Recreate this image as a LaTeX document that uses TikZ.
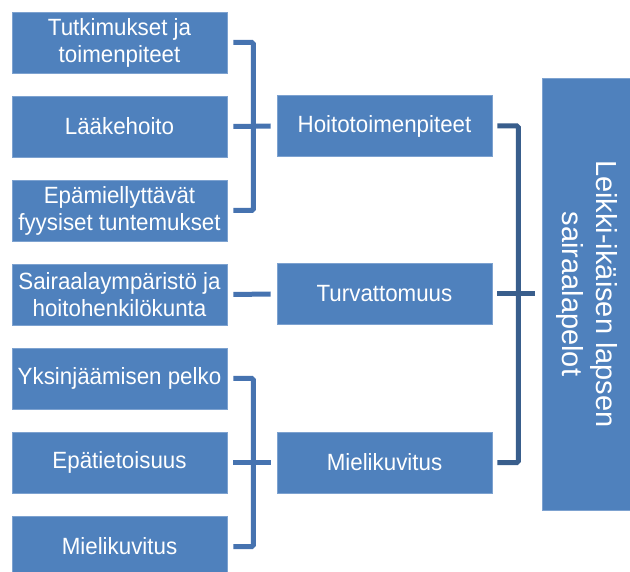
\documentclass[tikz,border=0pt]{standalone}
\usepackage{fontspec}
\setmainfont{Liberation Sans}
\newfontfamily\narrowfont{Liberation Sans}[FakeStretch=0.95]
\usepackage{tikz}
\definecolor{boxblue}{RGB}{79,129,189}
\definecolor{boxedge}{RGB}{125,162,208}
\definecolor{leftline}{RGB}{70,115,176}
\definecolor{rightline}{RGB}{57,94,140}
\begin{document}
\begin{tikzpicture}[x=1pt,y=-1pt,
    box/.style={rectangle,fill=boxblue,draw=boxedge,line width=0.6pt,text=white,
        minimum width=215pt,minimum height=61pt,inner sep=0pt,align=center,
        font=\narrowfont\fontsize{23.5}{27}\selectfont},
    lbr/.style={leftline,line width=5pt,rounded corners=1.5pt},
    rbr/.style={rightline,line width=5pt,rounded corners=1.5pt}]
        \useasboundingbox (0,0) rectangle (630,572);
        \clip (0,0) rectangle (630,572); % bottom box is cut by the page
        % left column
        \node[box] (tut) at (119.5,42.5) {Tutkimukset ja\\toimenpiteet};
        \node[box] (laa) at (119.5,126.5) {Lääkehoito};
        \node[box] (epa) at (119.5,210.5) {Epämiellyttävät\\fyysiset tuntemukset};
        \node[box] (sai) at (119.5,294.5) {Sairaalaympäristö ja\\hoitohenkilökunta};
        \node[box] (yks) at (119.5,378.5) {Yksinjäämisen pelko};
        \node[box] (epat) at (119.5,462.5) {Epätietoisuus};
        \node[box] (mku) at (119.5,546.5) {Mielikuvitus};
        % middle column
        \node[box] (hoi) at (384.5,126) {Hoitotoimenpiteet};
        \node[box] (tur) at (384.5,294) {Turvattomuus};
        \node[box] (mie) at (384.5,462.5) {Mielikuvitus};
        % right column, text runs downwards
        \node[box,rotate=-90,minimum width=432pt,minimum height=90pt,
            font=\fontsize{29}{34}\selectfont] (pel) at (587,294)
            {Leikki-ikäisen lapsen\\sairaalapelot};
        % brackets left to middle
        \draw[lbr] ([xshift=6]tut.east) -| ([xshift=26]laa.east) |- ([xshift=6]epa.east);
        \draw[lbr] ([xshift=6]laa.east) -- ([xshift=-6]hoi.west);
        \draw[lbr] ([xshift=6]sai.east) -- ([xshift=-6]tur.west);
        \draw[lbr] ([xshift=6]yks.east) -| ([xshift=26]epat.east) |- ([xshift=6]mku.east);
        \draw[lbr] ([xshift=6]epat.east) -- ([xshift=-6]mie.west);
        % bracket middle to right
        \draw[rbr] ([xshift=5]hoi.east) -| ([xshift=26]tur.east) |- ([xshift=5]mie.east);
        \draw[rbr] ([xshift=5]tur.east) -- ([xshift=-7]pel.south);
    \end{tikzpicture}
\end{document}
